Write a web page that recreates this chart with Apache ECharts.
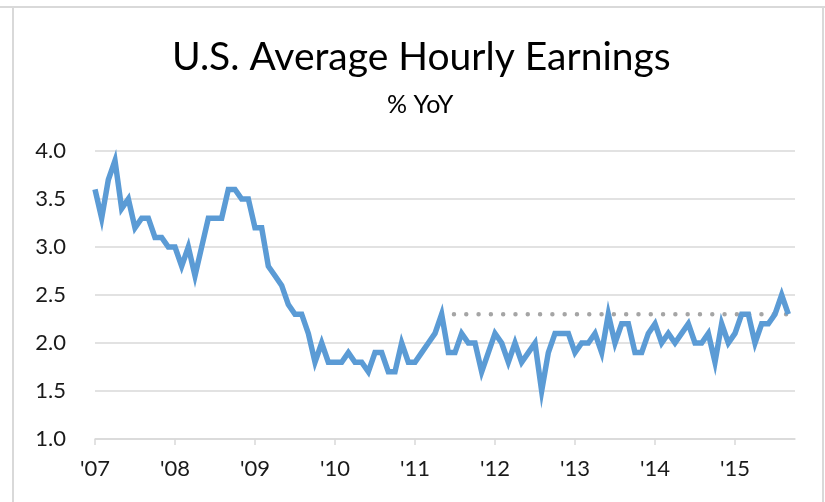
<!DOCTYPE html>
<html>
<head>
<meta charset="utf-8">
<script src="https://cdn.jsdelivr.net/npm/echarts@6/dist/echarts.min.js"></script>
<style>
html,body{margin:0;padding:0;background:#fff;}
#chart{width:825px;height:502px;}
</style>
</head>
<body>
<div id="chart"></div>
<script>
// Month categories (Jan 2007 onward), year tick labels, and series values (% YoY)
var startYear = 2007;
var monthCount = 106;
var yearLabels = ["'07","'08","'09","'10","'11","'12","'13","'14","'15"];
var earnings = [
  3.6,3.3,3.7,3.9,3.4,3.5,3.2,3.3,3.3,3.1,3.1,3.0,
  3.0,2.8,3.0,2.7,3.0,3.3,3.3,3.3,3.6,3.6,3.5,3.5,
  3.2,3.2,2.8,2.7,2.6,2.4,2.3,2.3,2.1,1.8,2.0,1.8,
  1.8,1.8,1.9,1.8,1.8,1.7,1.9,1.9,1.7,1.7,2.0,1.8,
  1.8,1.9,2.0,2.1,2.3,1.9,1.9,2.1,2.0,2.0,1.7,1.9,
  2.1,2.0,1.8,2.0,1.8,1.9,2.0,1.5,1.9,2.1,2.1,2.1,
  1.9,2.0,2.0,2.1,1.9,2.3,2.0,2.2,2.2,1.9,1.9,2.1,
  2.2,2.0,2.1,2.0,2.1,2.2,2.0,2.0,2.1,1.8,2.2,2.0,
  2.1,2.3,2.3,2.0,2.2,2.2,2.3,2.5,2.3
];
var refLevel = 2.3;
var refStartIndex = 52;
var yTicks = {min: 1.0, max: 4.0, step: 0.5};

var categories = [];
for (var i = 0; i < monthCount; i++) {
  var y = startYear + Math.floor(i / 12);
  var m = (i % 12) + 1;
  categories.push(y + '-' + (m < 10 ? '0' + m : m));
}
var refLine = earnings.map(function (v, i) { return i >= refStartIndex ? refLevel : null; });

var chart = echarts.init(document.getElementById('chart'));
var FONT = 'Lato, "Open Sans", sans-serif';
chart.setOption({
  animation: false,
  backgroundColor: '#fff',
  title: [
    {text: 'U.S. Average Hourly Earnings', left: 167, top: 33,
     textStyle: {fontFamily: FONT, fontSize: 39, fontWeight: 'normal', color: '#000'}},
    {text: '% YoY', left: 382, top: 87,
     textStyle: {fontFamily: FONT, fontSize: 25, fontWeight: 'normal', color: '#000'}}
  ],
  graphic: [
    {type: 'line', shape: {x1: 0, y1: 7, x2: 825, y2: 7}, style: {stroke: '#D9D9D9', lineWidth: 2}, silent: true},
    {type: 'line', shape: {x1: 13, y1: 7, x2: 13, y2: 502}, style: {stroke: '#D9D9D9', lineWidth: 2}, silent: true},
    {type: 'line', shape: {x1: 823, y1: 7, x2: 823, y2: 502}, style: {stroke: '#D9D9D9', lineWidth: 2}, silent: true}
  ],
  grid: {left: 95, right: 30, top: 151, bottom: 63, containLabel: false},
  xAxis: {
    type: 'category',
    data: categories,
    boundaryGap: false,
    axisLine: {lineStyle: {color: '#D9D9D9', width: 1.5}},
    axisTick: {show: true, alignWithLabel: true, length: 6, inside: false,
      interval: function (idx) { return idx % 12 === 0; },
      lineStyle: {color: '#D9D9D9', width: 1.5}},
    axisLabel: {
      interval: function (idx) { return idx % 12 === 0; },
      formatter: function (val, idx) { return yearLabels[Math.floor(idx / 12)] || ''; },
      margin: 19, fontFamily: FONT, fontSize: 22, color: '#1a1a1a'
    },
    splitLine: {show: false}
  },
  yAxis: {
    type: 'value',
    min: yTicks.min, max: yTicks.max, interval: yTicks.step,
    axisLine: {show: false},
    axisTick: {show: false},
    axisLabel: {formatter: function (v) { return v.toFixed(1); }, margin: 29,
      fontFamily: FONT, fontSize: 22, color: '#1a1a1a'},
    splitLine: {lineStyle: {color: '#D9D9D9', width: 1.5}}
  },
  series: [
    {type: 'line', data: refLine, symbol: 'none', connectNulls: false, z: 1,
     lineStyle: {color: '#A5A5A5', width: 4.5, type: [0, 12.3], cap: 'round'}},
    {type: 'line', data: earnings, symbol: 'none', z: 2,
     lineStyle: {color: '#5B9BD5', width: 5.5, cap: 'butt', join: 'miter'}}
  ]
});
</script>
</body>
</html>
